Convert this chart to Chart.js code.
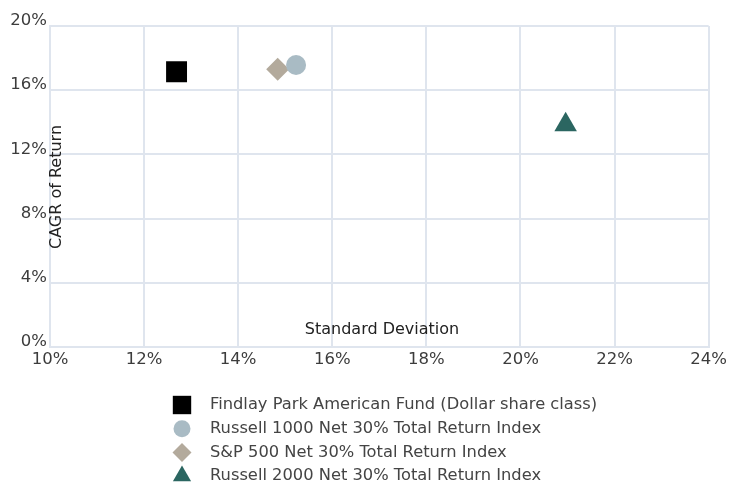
<!DOCTYPE html>
<html>
<head>
<meta charset="utf-8">
<script src="https://cdn.jsdelivr.net/npm/chart.js@4.4.0/dist/chart.umd.min.js"></script>
<style>
  html, body { margin: 0; padding: 0; background: #fff; }
  #wrap { width: 730px; height: 484px; }
</style>
</head>
<body>
<div id="wrap"><canvas id="chart" width="730" height="484"></canvas></div>
<script>
const seriesNames = [
  "Findlay Park American Fund (Dollar share class)",
  "Russell 1000 Net 30% Total Return Index",
  "S&P 500 Net 30% Total Return Index",
  "Russell 2000 Net 30% Total Return Index",
]
const stdDev = [12.69, 15.23, 14.84, 20.96]
const cagr = [17.15, 17.57, 17.3, 13.85]
const xTicks = [10, 12, 14, 16, 18, 20, 22, 24]
const yTicks = [0, 4, 8, 12, 16, 20]

const colors = ["#000000", "#a9bbc4", "#b3aa9c", "#2b6661"]
const styles = ["rect", "circle", "rectRot", "triangle"]
const radii = [14.8, 10, 11.5, 13]
const legendRadii = [13, 8.5, 9.5, 10.5]

const FONT = "'DejaVu Sans', Verdana, sans-serif"
const GRID = "#dfe5ee"

// Axis titles sit inside the plot area in the original
const innerTitles = {
  id: "innerTitles",
  afterDraw(chart) {
    const { ctx, chartArea } = chart
    ctx.save()
    ctx.fillStyle = "#222"
    ctx.font = "16px " + FONT
    ctx.textAlign = "center"
    ctx.textBaseline = "middle"
    ctx.fillText("Standard Deviation", chartArea.left + 332, chartArea.bottom - 17)
    ctx.translate(chartArea.left + 7, chartArea.top + 161)
    ctx.rotate(-Math.PI / 2)
    ctx.fillText("CAGR of Return", 0, 0)
    ctx.restore()
  },
}

// Stacked, left-aligned legend under the chart
const stackLegend = {
  id: "stackLegend",
  afterDraw(chart) {
    const { ctx } = chart
    ctx.save()
    ctx.font = "16.3px " + FONT
    ctx.textBaseline = "middle"
    ctx.textAlign = "left"
    chart.data.datasets.forEach((ds, i) => {
      const y = 405 + i * 23.7
      ctx.fillStyle = ds.backgroundColor
      Chart.helpers.drawPoint(ctx, { pointStyle: ds.pointStyle, radius: legendRadii[i], rotation: 0, borderWidth: 0 }, 182, y)
      ctx.fillStyle = "#444"
      ctx.fillText(ds.label, 210, y)
    })
    ctx.restore()
  },
}

const datasets = seriesNames.map((name, i) => ({
  label: name,
  data: [{ x: stdDev[i], y: cagr[i] }],
  backgroundColor: colors[i],
  borderColor: colors[i],
  borderWidth: 0,
  pointStyle: styles[i],
  pointRadius: radii[i],
  pointHoverRadius: radii[i],
}))

new Chart(document.getElementById("chart"), {
  type: "scatter",
  data: { datasets },
  options: {
    responsive: false,
    animation: false,
    layout: { padding: { top: 26, right: 20, bottom: 107, left: 0 } },
    plugins: {
      legend: { display: false },
      tooltip: { enabled: false },
    },
    scales: {
      x: {
        min: 10,
        max: 24,
        afterBuildTicks: (scale) => { scale.ticks = xTicks.map((v) => ({ value: v })) },
        afterFit: (scale) => { scale.height = 30 },
        grid: { color: GRID, lineWidth: 2, drawTicks: false },
        border: { color: GRID, width: 2 },
        ticks: {
          padding: 3,
          color: "#3c3c3c",
          font: { family: FONT, size: 16.5 },
          maxRotation: 0,
          callback: (v) => v + "%",
        },
      },
      y: {
        min: 0,
        max: 20,
        afterBuildTicks: (scale) => { scale.ticks = yTicks.map((v) => ({ value: v })) },
        afterFit: (scale) => { scale.width = 50 },
        grid: { color: GRID, lineWidth: 2, drawTicks: false },
        border: { color: GRID, width: 2 },
        ticks: {
          padding: 3,
          labelOffset: -5,
          color: "#3c3c3c",
          font: { family: FONT, size: 16.5 },
          callback: (v) => v + "%",
        },
      },
    },
  },
  plugins: [innerTitles, stackLegend],
})
</script>
</body>
</html>
